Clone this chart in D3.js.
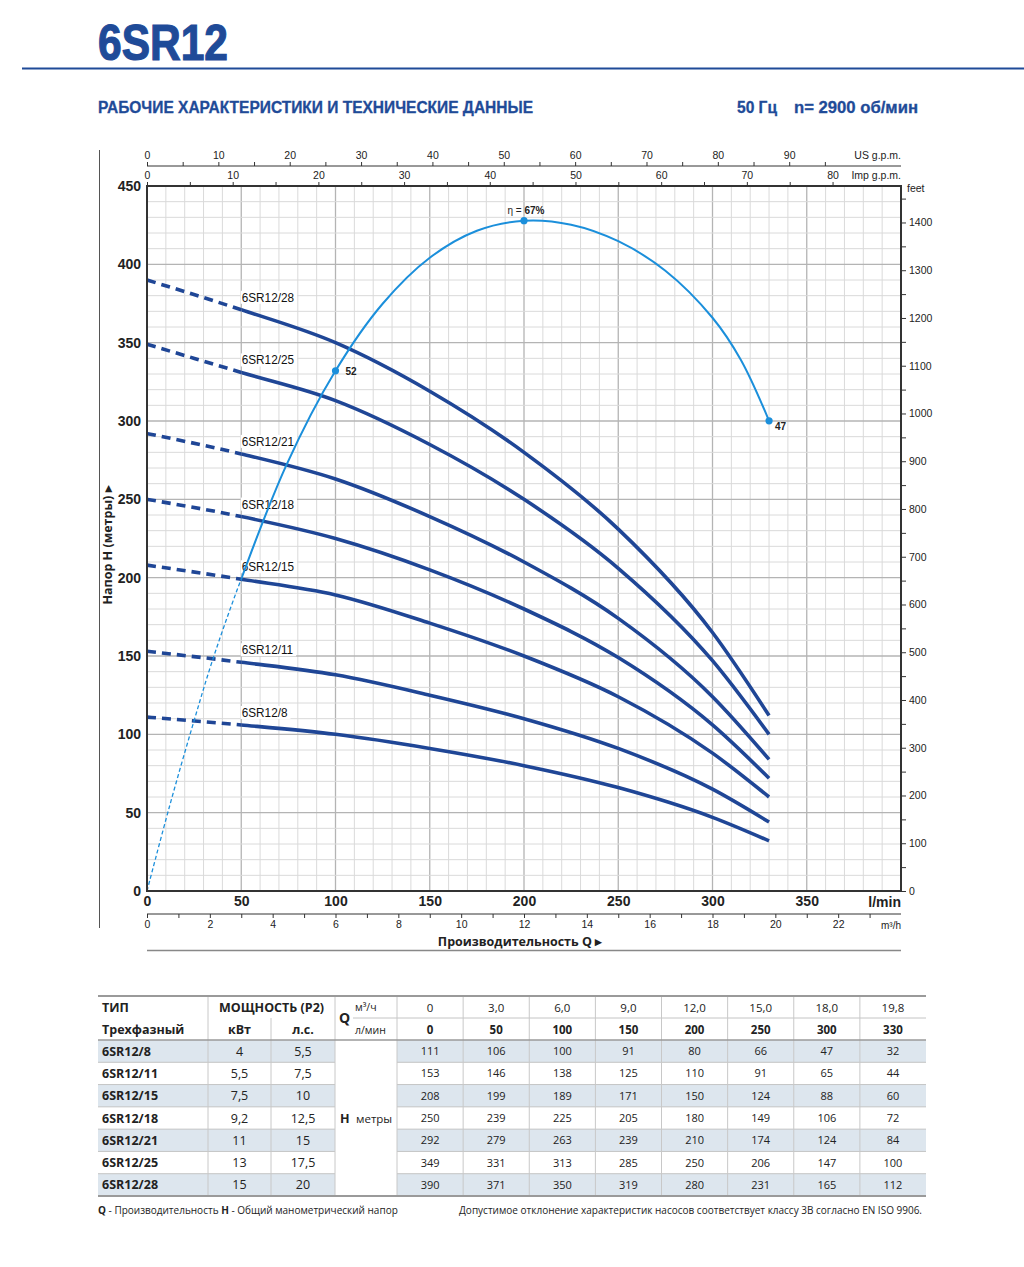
<!DOCTYPE html>
<html>
<head>
<meta charset="utf-8">
<script src="https://cdn.jsdelivr.net/npm/d3@7"></script>
<style>
  body { margin: 0; background: #fff; }
  svg { display: block; }
</style>
</head>
<body>
<script>
// table / curve data
const flowLmin = [0, 50, 100, 150, 200, 250, 300, 330];
const flowM3h = ["0", "3,0", "6,0", "9,0", "12,0", "15,0", "18,0", "19,8"];
const models = ["6SR12/8", "6SR12/11", "6SR12/15", "6SR12/18", "6SR12/21", "6SR12/25", "6SR12/28"];
const powerKw = ["4", "5,5", "7,5", "9,2", "11", "13", "15"];
const powerHp = ["5,5", "7,5", "10", "12,5", "15", "17,5", "20"];
const headM = [
    [111, 106, 100, 91, 80, 66, 47, 32],
    [153, 146, 138, 125, 110, 91, 65, 44],
    [208, 199, 189, 171, 150, 124, 88, 60],
    [250, 239, 225, 205, 180, 149, 106, 72],
    [292, 279, 263, 239, 210, 174, 124, 84],
    [349, 331, 313, 285, 250, 206, 147, 100],
    [390, 371, 350, 319, 280, 231, 165, 112]
];

// efficiency curve
const effFlow = [0, 12, 24, 35, 50, 74, 100, 125, 150, 175, 200, 225, 250, 275, 300, 315, 330];
const effPct = [0, 8.5, 16.4, 23.2, 31.2, 42.6, 52, 58.7, 63.3, 66.0, 67, 66.6, 64.95, 62.0, 57.3, 53.1, 47];
const effMarkFlow = [100, 200, 330];
const effMarkPct = [52, 67, 47];

// tick labels
const lminTicks = [0, 50, 100, 150, 200, 250, 300, 350];
const headTicks = [0, 50, 100, 150, 200, 250, 300, 350, 400, 450];
const feetLabels = [0, 100, 200, 300, 400, 500, 600, 700, 800, 900, 1000, 1100, 1200, 1300, 1400];
const usGpmLabels = [0, 10, 20, 30, 40, 50, 60, 70, 80, 90];
const impGpmLabels = [0, 10, 20, 30, 40, 50, 60, 70, 80];
const m3hLabels = [0, 2, 4, 6, 8, 10, 12, 14, 16, 18, 20, 22];

const w = 1024, h = 1267;
const pL = 147, pR = 901, pT = 186, pB = 891;
const darkBlue = "#1f4696";
const lightBlue = "#1b8fdb";
const titleBlue = "#1f4b98";
const chartFont = "'Liberation Sans Narrow', 'Arial Narrow', 'Liberation Sans', sans-serif";
const tableFont = "'Open Sans', 'Noto Sans', sans-serif";

const svg = d3.select("body").append("svg")
    .attr("width", w)
    .attr("height", h);

// header
svg.append("text")
    .attr("x", 98).attr("y", 60)
    .attr("font-family", chartFont).attr("font-weight", "bold")
    .attr("font-size", 50).attr("fill", titleBlue)
    .attr("stroke", titleBlue).attr("stroke-width", 1.2)
    .attr("textLength", 130).attr("lengthAdjust", "spacingAndGlyphs")
    .text("6SR12");
svg.append("line")
    .attr("x1", 22).attr("x2", 1024).attr("y1", 68.5).attr("y2", 68.5)
    .attr("stroke", titleBlue).attr("stroke-width", 2.2);
const subHead = [
    { x: 98, len: 435, t: "РАБОЧИЕ ХАРАКТЕРИСТИКИ И ТЕХНИЧЕСКИЕ ДАННЫЕ" },
    { x: 737, len: 40, t: "50 Гц" },
    { x: 794, len: 124, t: "n= 2900 об/мин" }
];
svg.selectAll(".subhead").data(subHead).enter().append("text")
    .attr("x", d => d.x).attr("y", 113)
    .attr("font-family", chartFont).attr("font-weight", "bold")
    .attr("font-size", 16).attr("fill", titleBlue)
    .attr("stroke", titleBlue).attr("stroke-width", 0.3)
    .attr("textLength", d => d.len).attr("lengthAdjust", "spacingAndGlyphs")
    .text(d => d.t);

// scales
const x = d3.scaleLinear().domain([0, 400]).range([pL, pR]);
const y = d3.scaleLinear().domain([0, 450]).range([pB, pT]);
const xUs = d3.scaleLinear().domain([0, 400 / 3.785411784]).range([pL, pR]);
const xImp = d3.scaleLinear().domain([0, 400 / 4.54609]).range([pL, pR]);
const xM3 = d3.scaleLinear().domain([0, 24]).range([pL, pR]);
const yFt = d3.scaleLinear().domain([0, 450 * 3.28084]).range([pB, pT]);
const yEta = d3.scaleLinear().domain([0, 70]).range([y(0), y(447)]);

// clip regions: dashed part below 50 l/min, solid above
const defs = svg.append("defs");
defs.append("clipPath").attr("id", "clipDash")
    .append("rect").attr("x", 0).attr("y", 0).attr("width", x(50)).attr("height", h);
defs.append("clipPath").attr("id", "clipSolid")
    .append("rect").attr("x", x(50)).attr("y", 0).attr("width", w).attr("height", h);

// left frame line
svg.append("line")
    .attr("x1", 99.5).attr("x2", 99.5).attr("y1", 150).attr("y2", 928)
    .attr("stroke", "#555").attr("stroke-width", 1);

// grid
const grid = svg.append("g");
grid.selectAll(".vg").data(d3.range(10, 400, 10)).enter().append("line")
    .attr("x1", d => x(d)).attr("x2", d => x(d))
    .attr("y1", pT).attr("y2", pB)
    .attr("stroke", d => d % 50 === 0 ? "#b4b4b4" : "#dadada")
    .attr("stroke-width", d => d % 50 === 0 ? 1.3 : 1);
grid.selectAll(".hg").data(d3.range(10, 450, 10)).enter().append("line")
    .attr("x1", pL).attr("x2", pR)
    .attr("y1", d => y(d)).attr("y2", d => y(d))
    .attr("stroke", d => d % 50 === 0 ? "#b4b4b4" : "#dadada")
    .attr("stroke-width", d => d % 50 === 0 ? 1.3 : 1);

// pump curves
const headLine = d3.line()
    .x(d => x(d[0]))
    .y(d => y(d[1]))
    .curve(d3.curveMonotoneX);

const curves = headM.map(vals => flowLmin.map((q, i) => [q, vals[i]]));

svg.append("g").attr("clip-path", "url(#clipDash)")
    .selectAll("path").data(curves).enter().append("path")
    .attr("d", headLine)
    .attr("fill", "none").attr("stroke", darkBlue)
    .attr("stroke-width", 3.6).attr("stroke-dasharray", "9,6");
svg.append("g").attr("clip-path", "url(#clipSolid)")
    .selectAll("path").data(curves).enter().append("path")
    .attr("d", headLine)
    .attr("fill", "none").attr("stroke", darkBlue)
    .attr("stroke-width", 3.6);

// curve labels with white background
const labels = svg.append("g");
models.forEach((m, i) => {
    const lx = x(50) + 0.5;
    const ly = y(headM[i][1]) - 8;
    const bg = labels.append("rect").attr("fill", "#fff");
    const t = labels.append("text")
        .attr("x", lx).attr("y", ly)
        .attr("font-family", chartFont).attr("font-size", 13.5)
        .attr("fill", "#111")
        .text(m);
    const natural = t.node().getComputedTextLength();
    t.attr("textLength", natural * 0.87).attr("lengthAdjust", "spacingAndGlyphs");
    const bb = t.node().getBBox();
    bg.attr("x", bb.x - 1).attr("y", bb.y + 1)
        .attr("width", bb.width + 4).attr("height", bb.height - 2);
});

// efficiency curve
const effPts = effFlow.map((q, i) => [q, effPct[i]]);
const effLine = d3.line()
    .x(d => x(d[0]))
    .y(d => yEta(d[1]))
    .curve(d3.curveCatmullRom.alpha(0.5));
svg.append("path")
    .attr("clip-path", "url(#clipDash)")
    .attr("d", effLine(effPts))
    .attr("fill", "none").attr("stroke", lightBlue)
    .attr("stroke-width", 1.3).attr("stroke-dasharray", "4,2.5");
svg.append("path")
    .attr("clip-path", "url(#clipSolid)")
    .attr("d", effLine(effPts))
    .attr("fill", "none").attr("stroke", lightBlue)
    .attr("stroke-width", 2);
svg.append("g").selectAll("circle")
    .data(effMarkFlow.map((q, i) => [q, effMarkPct[i]]))
    .enter().append("circle")
    .attr("cx", d => x(d[0])).attr("cy", d => yEta(d[1]))
    .attr("r", 3.6).attr("fill", lightBlue);

const etaTop = svg.append("text")
    .attr("x", x(effMarkFlow[1]) + 2).attr("y", yEta(effMarkPct[1]) - 7)
    .attr("text-anchor", "middle")
    .attr("font-family", "'Liberation Sans', sans-serif").attr("font-size", 10)
    .attr("fill", "#222");
etaTop.append("tspan").text("η = ");
etaTop.append("tspan").attr("font-weight", "bold").text(effMarkPct[1] + "%");
svg.append("text")
    .attr("x", x(effMarkFlow[0]) + 10).attr("y", yEta(effMarkPct[0]) + 4)
    .attr("font-family", "'Liberation Sans', sans-serif").attr("font-size", 10)
    .attr("font-weight", "bold").attr("fill", "#222")
    .text(effMarkPct[0]);
svg.append("text")
    .attr("x", x(effMarkFlow[2]) + 6).attr("y", yEta(effMarkPct[2]) + 9)
    .attr("font-family", "'Liberation Sans', sans-serif").attr("font-size", 10)
    .attr("font-weight", "bold").attr("fill", "#222")
    .text(effMarkPct[2]);

// plot border
svg.append("rect")
    .attr("x", pL).attr("y", pT)
    .attr("width", pR - pL).attr("height", pB - pT)
    .attr("fill", "none").attr("stroke", "#333").attr("stroke-width", 2);

// axes
function styleAxis(g, size, bold) {
    g.selectAll("text")
        .attr("font-family", chartFont)
        .attr("font-size", size)
        .attr("font-weight", bold ? "bold" : "normal")
        .attr("fill", "#222");
    g.selectAll("line").attr("stroke", "#333");
    g.select(".domain").attr("stroke", "#333");
}

// left: head in metres
const yAxisG = svg.append("g")
    .attr("transform", "translate(" + pL + ",0)")
    .call(d3.axisLeft(y).tickValues(headTicks).tickSize(0).tickPadding(6));
yAxisG.select(".domain").remove();
styleAxis(yAxisG, 14, true);

// right: feet
const ftAxisG = svg.append("g")
    .attr("transform", "translate(" + pR + ",0)")
    .call(d3.axisRight(yFt).tickValues(d3.range(0, 1451, 50)).tickSize(5).tickPadding(3)
        .tickFormat(d => feetLabels.includes(d) ? d : ""));
ftAxisG.select(".domain").remove();
styleAxis(ftAxisG, 10.5, false);
svg.append("text")
    .attr("x", 907).attr("y", 192)
    .attr("font-family", chartFont).attr("font-size", 10.5).attr("fill", "#222")
    .text("feet");

// bottom: l/min
const xAxisG = svg.append("g")
    .attr("transform", "translate(0," + pB + ")")
    .call(d3.axisBottom(x).tickValues(lminTicks).tickSize(0).tickPadding(5));
xAxisG.select(".domain").remove();
styleAxis(xAxisG, 14, true);
svg.append("text")
    .attr("x", pR).attr("y", 907)
    .attr("text-anchor", "end")
    .attr("font-family", chartFont).attr("font-size", 14).attr("font-weight", "bold")
    .attr("fill", "#222")
    .text("l/min");

// bottom: m3/h
const m3AxisG = svg.append("g")
    .attr("transform", "translate(0,914)")
    .call(d3.axisBottom(xM3).tickValues(d3.range(0, 24, 1)).tickSize(4).tickPadding(3)
        .tickFormat(d => m3hLabels.includes(d) ? d : ""));
m3AxisG.select(".domain").attr("d", "M" + pL + ",0H" + pR);
styleAxis(m3AxisG, 10.5, false);
svg.append("text")
    .attr("x", pR).attr("y", 929)
    .attr("text-anchor", "end")
    .attr("font-family", chartFont).attr("font-size", 10).attr("fill", "#222")
    .text("m³/h");

svg.append("text")
    .attr("x", 520).attr("y", 946)
    .attr("text-anchor", "middle")
    .attr("font-family", tableFont).attr("font-size", 12.5).attr("font-weight", "bold")
    .attr("fill", "#222")
    .text("Производительность Q  ▸");
svg.append("line")
    .attr("x1", pL).attr("x2", pR).attr("y1", 950.5).attr("y2", 950.5)
    .attr("stroke", "#888").attr("stroke-width", 1.5);

// top: US g.p.m.
const usAxisG = svg.append("g")
    .attr("transform", "translate(0,166)")
    .call(d3.axisTop(xUs).tickValues(d3.range(0, 100, 5)).tickSize(4).tickPadding(3)
        .tickFormat(d => usGpmLabels.includes(d) ? d : ""));
usAxisG.select(".domain").attr("d", "M" + pL + ",0H" + pR);
styleAxis(usAxisG, 10.5, false);
svg.append("text")
    .attr("x", pR).attr("y", 159)
    .attr("text-anchor", "end")
    .attr("font-family", chartFont).attr("font-size", 10.5).attr("fill", "#222")
    .text("US g.p.m.");

// top: Imp g.p.m.
const impAxisG = svg.append("g")
    .attr("transform", "translate(0," + pT + ")")
    .call(d3.axisTop(xImp).tickValues(d3.range(0, 85, 5)).tickSize(4).tickPadding(3)
        .tickFormat(d => impGpmLabels.includes(d) ? d : ""));
impAxisG.select(".domain").remove();
styleAxis(impAxisG, 10.5, false);
svg.append("text")
    .attr("x", pR).attr("y", 179)
    .attr("text-anchor", "end")
    .attr("font-family", chartFont).attr("font-size", 10.5).attr("fill", "#222")
    .text("Imp g.p.m.");

// y axis title
svg.append("text")
    .attr("transform", "translate(112,545) rotate(-90)")
    .attr("text-anchor", "middle")
    .attr("font-family", tableFont).attr("font-size", 12.5).attr("font-weight", "bold")
    .attr("fill", "#222")
    .text("Напор H (метры)  ▸");

// ---------- table ----------
const tTop = 996, tHead2 = 1018, tBody = 1040, tBottom = 1196;
const colName = [98, 208], colKw = [208, 271], colHp = [271, 335];
const colX = d3.scaleBand().domain(d3.range(flowLmin.length)).range([397, 926]);
const rowY = d3.scaleBand().domain(models).range([tBody, tBottom]);
const shade = "#dde6ee";
const table = svg.append("g").attr("font-family", tableFont).attr("fill", "#222");

// shaded rows
models.forEach((m, i) => {
    if (i % 2 !== 0) return;
    const r0 = rowY(m), rh = rowY.bandwidth();
    [colName, colKw, colHp].forEach(c => {
        table.append("rect")
            .attr("x", c[0]).attr("y", r0)
            .attr("width", c[1] - c[0]).attr("height", rh)
            .attr("fill", shade);
    });
    table.append("rect")
        .attr("x", 397).attr("y", r0)
        .attr("width", 926 - 397).attr("height", rh)
        .attr("fill", shade);
});

// row separators
models.forEach((m, i) => {
    if (i === 0) return;
    const yy = rowY(m);
    table.append("line").attr("x1", 98).attr("x2", 335).attr("y1", yy).attr("y2", yy)
        .attr("stroke", "#c4c4c4").attr("stroke-width", 1);
    table.append("line").attr("x1", 397).attr("x2", 926).attr("y1", yy).attr("y2", yy)
        .attr("stroke", "#c4c4c4").attr("stroke-width", 1);
});
table.append("line").attr("x1", 353).attr("x2", 926).attr("y1", tHead2).attr("y2", tHead2)
    .attr("stroke", "#c4c4c4").attr("stroke-width", 1);

// vertical separators
[208, 335, 397].concat(d3.range(1, flowLmin.length).map(i => colX(i))).forEach(vx => {
    table.append("line").attr("x1", vx).attr("x2", vx).attr("y1", tTop).attr("y2", tBottom)
        .attr("stroke", "#c8c8c8").attr("stroke-width", 1);
});
table.append("line").attr("x1", 271).attr("x2", 271).attr("y1", tHead2).attr("y2", tBottom)
    .attr("stroke", "#c8c8c8").attr("stroke-width", 1);

// heavy rules
table.append("line").attr("x1", 98).attr("x2", 926).attr("y1", tTop).attr("y2", tTop)
    .attr("stroke", "#9a9a9a").attr("stroke-width", 2);
table.append("line").attr("x1", 98).attr("x2", 926).attr("y1", tBody).attr("y2", tBody)
    .attr("stroke", "#9a9a9a").attr("stroke-width", 1.6);
table.append("line").attr("x1", 98).attr("x2", 926).attr("y1", tBottom).attr("y2", tBottom)
    .attr("stroke", "#9a9a9a").attr("stroke-width", 2);

// header texts
const h1 = (tTop + tHead2) / 2 + 4.5, h2 = (tHead2 + tBody) / 2 + 4.5;
table.append("text").attr("x", 102).attr("y", h1).attr("font-size", 12.5).attr("font-weight", "bold").text("ТИП");
table.append("text").attr("x", 102).attr("y", h2).attr("font-size", 12.5).attr("font-weight", "bold").text("Трехфазный");
table.append("text").attr("x", 271.5).attr("y", h1).attr("text-anchor", "middle")
    .attr("font-size", 12.5).attr("font-weight", "bold").text("МОЩНОСТЬ (P2)");
table.append("text").attr("x", 239.5).attr("y", h2).attr("text-anchor", "middle")
    .attr("font-size", 12.5).attr("font-weight", "bold").text("кВт");
table.append("text").attr("x", 303).attr("y", h2).attr("text-anchor", "middle")
    .attr("font-size", 12.5).attr("font-weight", "bold").text("л.с.");
table.append("text").attr("x", 339).attr("y", tHead2 + 5).attr("font-size", 14).attr("font-weight", "bold").text("Q");
table.append("text").attr("x", 355).attr("y", h1 - 1).attr("font-size", 10.5).text("м³/ч");
table.append("text").attr("x", 355).attr("y", h2).attr("font-size", 10.5).text("л/мин");

flowM3h.forEach((v, i) => {
    table.append("text").attr("x", colX(i) + colX.bandwidth() / 2).attr("y", h1)
        .attr("text-anchor", "middle").attr("font-size", 11.5).text(v);
});
flowLmin.forEach((v, i) => {
    table.append("text").attr("x", colX(i) + colX.bandwidth() / 2).attr("y", h2)
        .attr("text-anchor", "middle").attr("font-size", 11.5).attr("font-weight", "bold").text(v);
});

// body texts
models.forEach((m, r) => {
    const cy = rowY(m) + rowY.bandwidth() / 2 + 4.5;
    table.append("text").attr("x", 102).attr("y", cy)
        .attr("font-size", 12.5).attr("font-weight", "bold").text(m);
    table.append("text").attr("x", 239.5).attr("y", cy).attr("text-anchor", "middle")
        .attr("font-size", 12.5).text(powerKw[r]);
    table.append("text").attr("x", 303).attr("y", cy).attr("text-anchor", "middle")
        .attr("font-size", 12.5).text(powerHp[r]);
    headM[r].forEach((v, i) => {
        table.append("text").attr("x", colX(i) + colX.bandwidth() / 2).attr("y", cy - 0.5)
            .attr("text-anchor", "middle").attr("font-size", 11).text(v);
    });
});
const hRow = rowY(models[3]) + rowY.bandwidth() / 2 + 4.5;
table.append("text").attr("x", 340).attr("y", hRow).attr("font-size", 12.5).attr("font-weight", "bold").text("H");
table.append("text").attr("x", 356).attr("y", hRow).attr("font-size", 11.5).text("метры");

// footer notes
const note = svg.append("text").attr("x", 98).attr("y", 1214)
    .attr("font-family", tableFont).attr("font-size", 10).attr("fill", "#222");
note.append("tspan").attr("font-weight", "bold").text("Q");
note.append("tspan").text(" - Производительность   ");
note.append("tspan").attr("font-weight", "bold").text("H");
note.append("tspan").text(" - Общий манометрический напор");
svg.append("text").attr("x", 922).attr("y", 1214)
    .attr("text-anchor", "end")
    .attr("font-family", tableFont).attr("font-size", 10).attr("fill", "#222")
    .text("Допустимое отклонение характеристик насосов соответствует классу 3В согласно EN ISO 9906.");
</script>
</body>
</html>
